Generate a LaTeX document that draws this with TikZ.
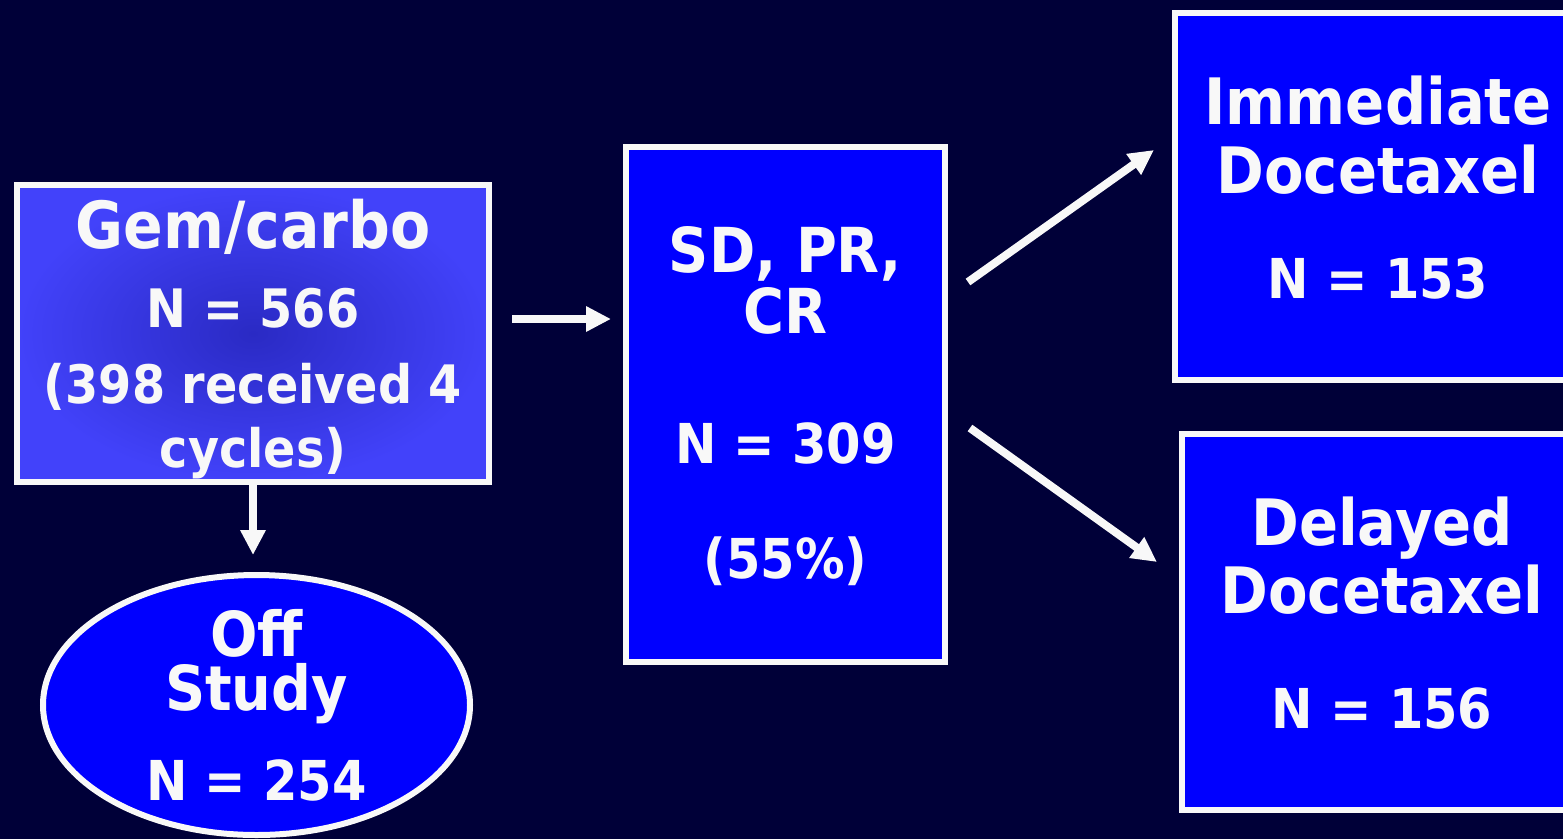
\documentclass[tikz,border=0pt]{standalone}
\usepackage{fontspec}
\setmainfont{DejaVu Sans}[FakeStretch=0.9]
\usetikzlibrary{arrows.meta,shapes.geometric}
\definecolor{bgnavy}{RGB}{0,0,56}
\definecolor{fgwhite}{RGB}{248,248,248}
\definecolor{boxblue}{RGB}{0,0,255}
\definecolor{gemin}{RGB}{42,42,196}
\definecolor{gemout}{RGB}{66,66,250}
\begin{document}
\begin{tikzpicture}[x=1pt,y=-1pt,
  frame/.style={draw=fgwhite, line width=6pt, inner sep=0pt, text=fgwhite, align=center},
  box/.style={frame, fill=boxblue},
  arr/.style={draw=fgwhite, line width=8pt, -{Triangle[length=25pt,width=24pt]}},
]
\useasboundingbox (0,0) rectangle (1563,839);
\fill[bgnavy] (0,0) rectangle (1563,839);

\node[frame, rectangle, shading=radial, inner color=gemin, outer color=gemout,
      minimum width=472pt, minimum height=297pt, text height=280pt, text depth=13pt,
      font=\bfseries\fontsize{53}{64}\selectfont] (gem) at (253,333.5)
  {{\fontsize{65}{64}\selectfont Gem/carbo}\\[15pt]N = 566\\[12pt](398 received 4\\cycles)};

\node[box, rectangle, minimum width=319pt, minimum height=515pt, text height=368pt, text depth=20pt,
      font=\bfseries\fontsize{55}{61}\selectfont] (mid) at (785.5,404)
  {{\fontsize{62}{61}\selectfont SD, PR,}\\{\fontsize{62}{61}\selectfont CR}\\[69pt]N = 309\\[54pt](55\%)};

\node[box, rectangle, minimum width=406pt, minimum height=367pt, text height=223pt, text depth=20pt,
      font=\bfseries\fontsize{55}{69}\selectfont] (imm) at (1378,196.5)
  {{\fontsize{64}{69}\selectfont Immediate}\\{\fontsize{64}{69}\selectfont Docetaxel}\\[36pt]N = 153};

\node[box, rectangle, minimum width=400pt, minimum height=376pt, text height=232pt, text depth=20pt,
      font=\bfseries\fontsize{55}{68}\selectfont] (del) at (1382,622)
  {{\fontsize{64}{68}\selectfont Delayed}\\{\fontsize{64}{68}\selectfont Docetaxel}\\[47pt]N = 156};

\node[box, ellipse, inner ysep=-4pt, minimum width=427pt, minimum height=260pt, text height=190pt, text depth=0pt,
      font=\bfseries\fontsize{55}{54}\selectfont] (off) at (256.5,705)
  {{\fontsize{62}{54}\selectfont Off}\\{\fontsize{62}{54}\selectfont Study}\\[34pt]N = 254};

\draw[arr, shorten <=20pt, shorten >=12pt] (gem.east |- 0,319) -- (mid.west |- 0,319);
\draw[arr, shorten >=17pt] (gem.south) -- (gem.south |- off.north);
\draw[arr] ([shift={(20,-122)}]mid.east) -- ([shift={(-18,-46.5)}]imm.west);
\draw[arr] ([shift={(22,24)}]mid.east) -- ([shift={(-22,-60)}]del.west);
\end{tikzpicture}
\end{document}
